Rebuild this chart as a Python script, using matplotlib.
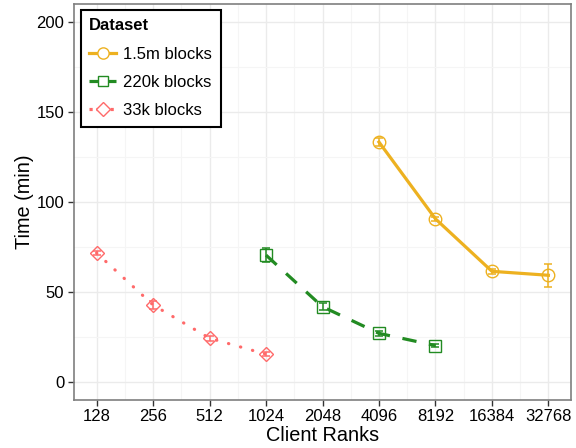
import numpy as np
import matplotlib
matplotlib.use("Agg")
import matplotlib.pyplot as plt
from matplotlib.ticker import FixedLocator
from matplotlib.lines import Line2D

plt.rcParams['font.family'] = ['Liberation Sans', 'DejaVu Sans']

# data
ranks = [128, 256, 512, 1024, 2048, 4096, 8192, 16384, 32768]

ranks_15m = [4096, 8192, 16384, 32768]
time_15m = [133.2, 90.5, 61.3, 59.1]
err_15m = [2.0, 1.2, 1.5, 6.5]

ranks_220k = [1024, 2048, 4096, 8192]
time_220k = [70.3, 41.6, 26.8, 20.0]
err_220k = [3.7, 2.0, 1.5, 0.8]

ranks_33k = [128, 256, 512, 1024]
time_33k = [71.5, 42.6, 24.1, 15.2]
err_33k = [1.0, 2.0, 1.5, 1.2]

labels = ['1.5m blocks', '220k blocks', '33k blocks']
colors = ['#EDB120', '#228B22', '#FF6A6A']
markers = ['o', 's', 'D']
styles = ['-', (0, (4.5, 4)), (0, (0.1, 3.8))]
leg_styles = ['-', (0, (3.5, 1.5)), (0, (1.0, 1.2))]
msizes = [9, 8, 7.5]

fig = plt.figure(figsize=(5.76, 4.48), dpi=100)
ax = fig.add_axes([74/576, 48.5/448, 497/576, 395.5/448])

series = [(ranks_15m, time_15m, err_15m), (ranks_220k, time_220k, err_220k),
          (ranks_33k, time_33k, err_33k)]
for (x, y, e), lab, c, m, ls, ms in zip(series, labels, colors, markers, styles, msizes):
    lx = np.log2(x)
    ax.plot(lx, y, color=c, lw=2.3, ls=ls, dash_capstyle='round' if ls == styles[2] else 'butt',
            zorder=3)
    ax.errorbar(lx, y, yerr=e, fmt='none', ecolor=c, elinewidth=1.1,
                capsize=3, capthick=1.1, zorder=4)
    ax.plot(lx, y, ls='none', marker=m, ms=ms, mfc='none', mec=c, mew=1.0, zorder=5)

ax.set_xlim(6.6, 15.4)
ax.set_ylim(-10, 210)
xt = np.log2(ranks)
ax.set_xticks(xt)
ax.set_xticklabels([str(r) for r in ranks])
ax.set_yticks([0, 50, 100, 150, 200])
ax.xaxis.set_minor_locator(FixedLocator(xt[:-1] + 0.5))
ax.yaxis.set_minor_locator(FixedLocator([25, 75, 125, 175]))

ax.grid(True, which='major', color='#EBEBEB', lw=1.0, zorder=0)
ax.grid(True, which='minor', color='#F5F5F5', lw=0.8, zorder=0)
ax.set_axisbelow(True)
ax.tick_params(which='minor', length=0)
ax.tick_params(which='major', length=4, width=1, color='#333333',
               labelsize=12, labelcolor='black', pad=3)
for s in ax.spines.values():
    s.set_color('#7F7F7F')
    s.set_linewidth(1.2)

ax.set_xlabel('Client Ranks', fontsize=14.3, labelpad=1)
ax.set_ylabel('Time (min)', fontsize=14.3, labelpad=2)

handles = [Line2D([], [], color=c, lw=2.3, ls=ls, marker=m, ms=ms * 0.9, mfc='white',
                  mec=c, mew=1.0)
           for c, m, ls, ms in zip(colors, markers, leg_styles, msizes)]
leg = ax.legend(handles, labels, title='Dataset', loc='upper left',
                bbox_to_anchor=(0.014, 0.985), borderaxespad=0,
                fontsize=12, title_fontsize=12, frameon=True, fancybox=False,
                handlelength=1.6, handletextpad=0.45, borderpad=0.5,
                labelspacing=0.8)
leg._legend_box.align = 'left'
leg.get_title().set_fontweight('bold')
fr = leg.get_frame()
fr.set_edgecolor('black')
fr.set_linewidth(1.5)
fr.set_alpha(1)

fig.savefig('out.png', dpi=100)
